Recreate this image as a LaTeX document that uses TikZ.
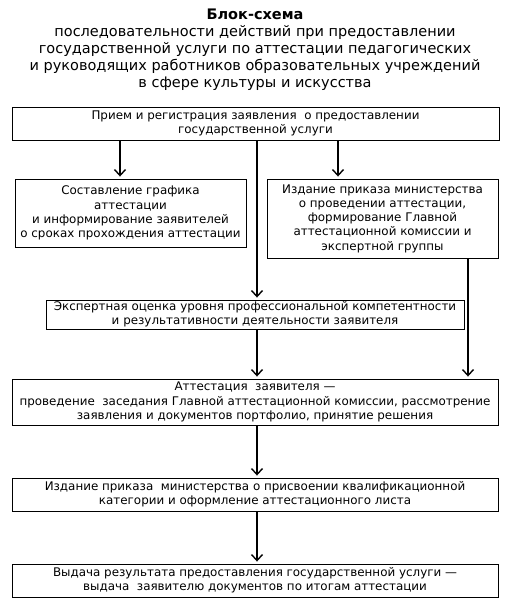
\documentclass[tikz,border=0pt]{standalone}
\usepackage{fontspec}
\setmainfont{DejaVu Sans}
\usetikzlibrary{arrows.meta}
\begin{document}
\begin{tikzpicture}[x=1pt,y=-1pt,
  box/.style={draw,line width=0.9pt,align=center,inner sep=0pt,font=\fontsize{11.9}{14.2}\selectfont},
  arr/.style={line width=1.5pt,-{Straight Barb[length=6pt,width=11pt,line width=1.4pt]},shorten >=2pt},
  ttl/.style={align=center,font=\fontsize{14.5}{17}\selectfont}]
\useasboundingbox (0,0) rectangle (511,607);
\node[ttl] (title) at (255,50) {\textbf{Блок-схема}\\последовательности действий при предоставлении\\государственной услуги по аттестации педагогических\\и руководящих работников образовательных учреждений\\в сфере культуры и искусства};
\node[box,minimum width=487pt,minimum height=33pt] (b1) at (255.5,123.5) {Прием и регистрация заявления\ \ о предоставлении\\государственной услуги};
\node[box,minimum width=231pt,minimum height=68pt] (bl) at (130.5,213) {Составление графика\\аттестации\\и информирование заявителей\\о сроках прохождения аттестации};
\node[box,minimum width=231pt,minimum height=79pt] (br) at (382.5,218.5) {Издание приказа министерства\\о проведении аттестации,\\формирование Главной\\аттестационной комиссии и\\экспертной группы};
\node[box,minimum width=418pt,minimum height=29pt] (be) at (255,314.5) {Экспертная оценка уровня профессиональной компетентности\\и результативности деятельности заявителя};
\node[box,minimum width=486pt,minimum height=46pt] (ba) at (255,402) {Аттестация\ \ заявителя —\\проведение\ \ заседания Главной аттестационной комиссии, рассмотрение\\заявления и документов портфолио, принятие решения};
\node[box,minimum width=486pt,minimum height=33pt] (bo) at (255,494.5) {Издание приказа\ \ министерства о присвоении квалификационной\\категории и оформление аттестационного листа};
\node[box,minimum width=486pt,minimum height=33pt] (bv) at (255,580.5) {Выдача результата предоставления государственной услуги —\\выдача\ \ заявителю документов по итогам аттестации};
\draw[arr] (b1.south -| 120,0) -- (bl.north -| 120,0);
\draw[arr] (b1.south -| 338,0) -- (br.north -| 338,0);
\draw[arr] (b1.south -| 257,0) -- (be.north -| 257,0);
\draw[arr] (be.south -| 257,0) -- (ba.north -| 257,0);
\draw[arr] (br.south -| 468,0) -- (ba.north -| 468,0);
\draw[arr] (ba.south -| 257,0) -- (bo.north -| 257,0);
\draw[arr] (bo.south -| 257,0) -- (bv.north -| 257,0);
\end{tikzpicture}
\end{document}
